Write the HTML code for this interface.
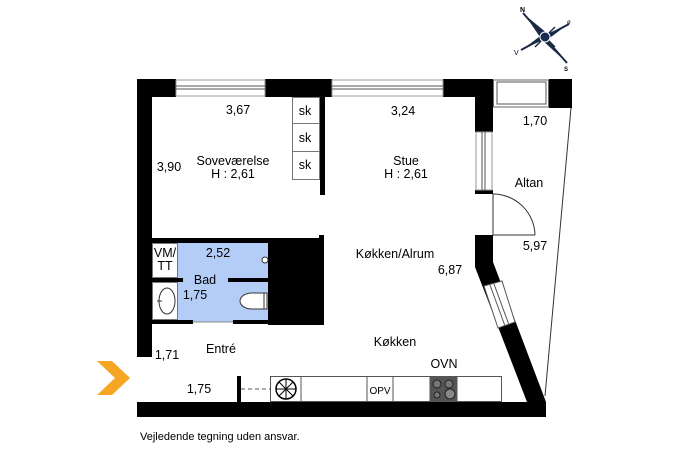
<!DOCTYPE html>
<html><head><meta charset="utf-8"><style>
html,body{margin:0;padding:0;background:#fff;}
svg{display:block;}
text{font-family:"Liberation Sans",Arial,sans-serif;font-size:12.5px;fill:#000;}
</style></head><body>
<svg width="687" height="457" viewBox="0 0 687 457" xmlns="http://www.w3.org/2000/svg">
<!-- compass -->
<g transform="translate(545,37)">
<polygon points="-20,-22 -3,-3 3,-3" fill="#1a2a44"/>
<polygon points="-20,-22 3,3 -3,3" fill="#1a2a44"/>
<polygon points="20,24 3,3 -3,3" fill="#1a2a44"/>
<polygon points="22,-12 2,-3 2,3" fill="#1a2a44"/>
<polygon points="-22,12 -2,3 -2,-3" fill="#1a2a44"/>
<line x1="-22" y1="-24" x2="22" y2="26" stroke="#1a2a44" stroke-width="2"/>
<line x1="24" y1="-13" x2="-24" y2="13" stroke="#1a2a44" stroke-width="2"/>
<line x1="-10" y1="10" x2="10" y2="-10" stroke="#1a2a44" stroke-width="1.5"/>
<line x1="-10" y1="-10" x2="10" y2="10" stroke="#1a2a44" stroke-width="1.5"/>
<circle r="5" fill="#1a2a55" stroke="#fff" stroke-width="1"/>
<text x="-25" y="-25" style="font-size:7px;font-weight:bold">N</text>
<text x="22" y="-13" style="font-size:6px">ø</text>
<text x="-31" y="18" style="font-size:7px">V</text>
<text x="19" y="34" style="font-size:6px;font-weight:bold">S</text>
</g>

<!-- bath fill -->
<rect x="178" y="243" width="90" height="79" fill="#b3cdf7"/>

<!-- outer walls -->
<g fill="#000">
<rect x="137" y="79" width="39" height="18"/>
<rect x="265" y="79" width="67" height="18"/>
<rect x="443" y="79" width="50" height="18"/>
<rect x="549" y="79" width="23" height="29"/>
<rect x="475" y="97" width="18" height="35"/>
<rect x="475" y="190" width="18" height="4"/>
<polygon points="475,235 493,235 493,262 546,402 527,402 475,267"/>
<rect x="137" y="79" width="15" height="278"/>
<rect x="137" y="402" width="409" height="15"/>
<!-- interior -->
<rect x="320" y="97" width="5" height="98"/>
<rect x="152" y="238" width="168" height="5"/>
<rect x="319" y="235" width="5" height="90"/>
<rect x="268" y="243" width="55" height="82"/>
<rect x="152" y="278" width="31" height="4"/>
<rect x="228" y="278" width="40" height="4"/>
<rect x="152" y="320" width="41" height="4"/>
<rect x="233" y="320" width="35" height="4"/>
<rect x="237" y="376" width="4" height="26"/>
</g>
<!-- windows top -->
<g fill="#fff" stroke="#555" stroke-width="1">
<rect x="176" y="80" width="89" height="16" stroke="#999"/>
<line x1="176" y1="86" x2="265" y2="86"/><line x1="176" y1="89" x2="265" y2="89"/>
<rect x="332" y="80" width="111" height="16" stroke="#999"/>
<line x1="332" y1="86" x2="443" y2="86"/><line x1="332" y1="89" x2="443" y2="89"/>
<rect x="493.5" y="80" width="55" height="27" stroke="#666"/>
<rect x="497" y="82" width="49" height="22"/>
<rect x="476" y="132" width="16" height="58" stroke="#999"/>
<line x1="482" y1="132" x2="482" y2="190"/><line x1="485" y1="132" x2="485" y2="190"/>
</g>
<!-- diagonal window -->
<polygon points="484,286 502,281 515,322 498,328" fill="#fff" stroke="#555"/>
<line x1="490" y1="285" x2="505" y2="326" stroke="#555"/>
<line x1="494" y1="284" x2="509" y2="325" stroke="#555"/>
<!-- balcony -->
<g stroke="#333" fill="none" stroke-width="1">
<line x1="571" y1="108" x2="545" y2="396"/>
<line x1="493" y1="194" x2="493" y2="235"/>
<line x1="493" y1="235" x2="535" y2="235"/>
<path d="M493,194 A42,42 0 0 1 535,235"/>
</g>
<!-- closets -->
<g fill="#fff" stroke="#777">
<rect x="292.5" y="97.5" width="27" height="26"/>
<rect x="292.5" y="123.5" width="27" height="28"/>
<rect x="292.5" y="151.5" width="27" height="28"/>
</g>
<!-- VM/TT + sink -->
<rect x="152.5" y="243.5" width="25" height="34" fill="#fff" stroke="#777"/>
<rect x="152.5" y="282.5" width="25" height="37" fill="#fff" stroke="#777"/>
<ellipse cx="167" cy="301" rx="8" ry="13" fill="#fff" stroke="#333"/>
<line x1="157" y1="301" x2="162" y2="301" stroke="#333"/>
<line x1="193" y1="322" x2="233" y2="322" stroke="#888"/>
<!-- toilet -->
<path d="M267,293 L252,293 A12,8 0 0 0 252,309 L267,309 Z" fill="#fff" stroke="#333"/>
<line x1="264" y1="293" x2="264" y2="309" stroke="#333"/>
<circle cx="265" cy="260" r="3" fill="#fff" stroke="#333"/>
<!-- kitchen counter -->
<g fill="#fff" stroke="#555">
<rect x="270.5" y="376.5" width="231" height="25"/>
<line x1="301" y1="376" x2="301" y2="402"/>
<line x1="367" y1="376" x2="367" y2="402"/>
<line x1="393" y1="376" x2="393" y2="402"/>
<line x1="430" y1="376" x2="430" y2="402"/>
<line x1="457" y1="376" x2="457" y2="402"/>
</g>
<rect x="430" y="377" width="27" height="25" fill="#555"/>
<circle cx="437" cy="384" r="4" fill="#777" stroke="#222"/>
<circle cx="449" cy="384" r="4" fill="#777" stroke="#222"/>
<circle cx="437" cy="395" r="3" fill="#777" stroke="#222"/>
<circle cx="450" cy="394" r="5" fill="#888" stroke="#222"/>
<circle cx="286" cy="389" r="10" fill="#fff" stroke="#000" stroke-width="1.5"/>
<g stroke="#000" stroke-width="1">
<line x1="276" y1="389" x2="296" y2="389"/><line x1="286" y1="379" x2="286" y2="399"/>
<line x1="279" y1="382" x2="293" y2="396"/><line x1="279" y1="396" x2="293" y2="382"/>
</g>
<line x1="241" y1="389" x2="270" y2="389" stroke="#555" stroke-dasharray="4,3"/>
<!-- entry arrow -->
<polygon points="97,361 112,361 130,378 112,395 97,395 115,378" fill="#f5a623"/>
<!-- labels -->
<text x="238" y="114" text-anchor="middle">3,67</text>
<text x="169" y="171" text-anchor="middle">3,90</text>
<text x="233" y="165" text-anchor="middle">Soveværelse</text>
<text x="233" y="178" text-anchor="middle">H : 2,61</text>
<text x="305" y="115" text-anchor="middle">sk</text>
<text x="305" y="142" text-anchor="middle">sk</text>
<text x="305" y="169" text-anchor="middle">sk</text>
<text x="403" y="115" text-anchor="middle">3,24</text>
<text x="406" y="165" text-anchor="middle">Stue</text>
<text x="406" y="178" text-anchor="middle">H : 2,61</text>
<text x="535" y="125" text-anchor="middle">1,70</text>
<text x="529" y="187" text-anchor="middle">Altan</text>
<text x="535" y="250" text-anchor="middle">5,97</text>
<text x="395" y="258" text-anchor="middle">Køkken/Alrum</text>
<text x="450" y="274" text-anchor="middle">6,87</text>
<text x="395" y="346" text-anchor="middle">Køkken</text>
<text x="444" y="368" text-anchor="middle">OVN</text>
<text x="380" y="394" text-anchor="middle" style="font-size:10px">OPV</text>
<text x="218" y="257" text-anchor="middle">2,52</text>
<text x="205" y="284" text-anchor="middle">Bad</text>
<text x="195" y="299" text-anchor="middle">1,75</text>
<text x="165" y="257" text-anchor="middle">VM/</text>
<text x="165" y="270" text-anchor="middle">TT</text>
<text x="167" y="359" text-anchor="middle">1,71</text>
<text x="221" y="353" text-anchor="middle">Entré</text>
<text x="199" y="393" text-anchor="middle">1,75</text>
<text x="140" y="440" style="font-size:11px">Vejledende tegning uden ansvar.</text>
</svg>
</body></html>
